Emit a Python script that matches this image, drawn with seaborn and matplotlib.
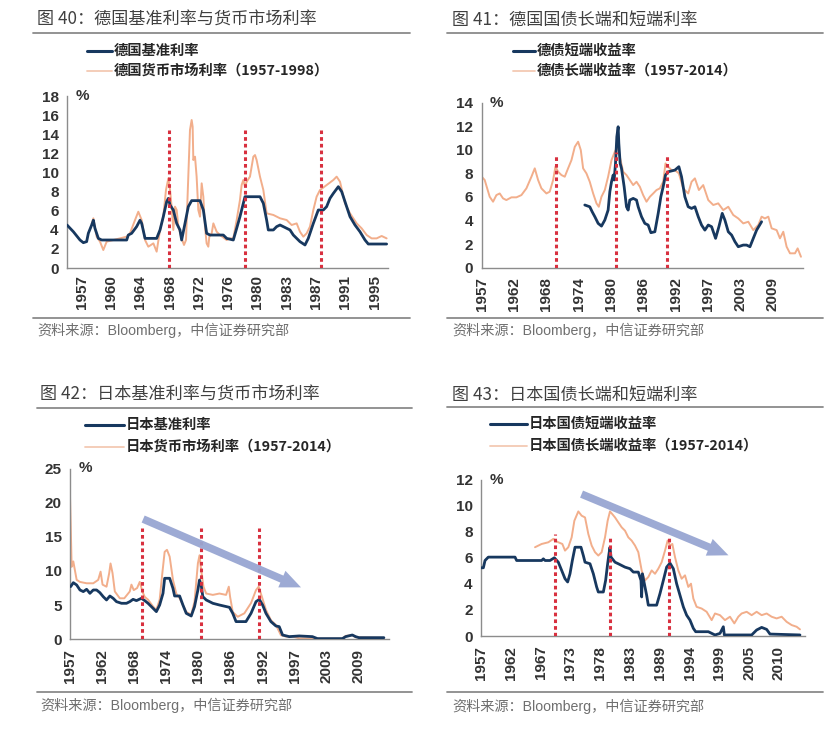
import numpy as np
import pandas as pd
import matplotlib
matplotlib.use("Agg")
import matplotlib.pyplot as plt
import seaborn as sns
from matplotlib.lines import Line2D

# ---------------- data (decimal year, %) ----------------
de_base = [(1957.0, 4.5), (1957.83, 3.8), (1958.7, 2.93), (1959.14, 2.65), (1959.57, 2.76), (1959.79, 3.63),
           (1960.23, 4.5), (1960.45, 5.0), (1960.66, 4.15), (1961.1, 3.1), (1961.54, 2.93), (1964.81, 2.93),
           (1965.02, 3.45), (1965.46, 3.63), (1966.11, 4.33), (1966.55, 5.0), (1966.77, 4.67), (1967.21, 3.1),
           (1968.73, 3.1), (1969.17, 3.98), (1969.6, 5.37), (1970.04, 6.94), (1970.26, 7.29), (1970.48, 6.59),
           (1970.91, 6.07), (1971.35, 4.67), (1971.78, 3.98), (1972.0, 2.93), (1972.44, 4.67), (1972.87, 6.42),
           (1973.31, 7.05), (1974.4, 7.05), (1974.84, 6.07), (1975.27, 3.63), (1975.71, 3.45), (1977.45, 3.45),
           (1977.89, 3.1), (1978.76, 2.93), (1979.2, 4.15), (1979.63, 5.37), (1980.07, 6.77), (1980.29, 7.46),
           (1982.25, 7.46), (1982.69, 6.77), (1983.12, 5.02), (1983.34, 3.98), (1984.0, 3.98), (1984.43, 4.33),
           (1984.87, 4.5), (1985.3, 4.33), (1986.18, 3.98), (1986.61, 3.45), (1987.48, 2.76), (1988.14, 2.41),
           (1988.57, 3.1), (1989.23, 4.67), (1989.88, 6.07), (1990.54, 6.07), (1990.97, 6.42), (1991.41, 7.29),
           (1991.85, 7.81), (1992.5, 8.51), (1992.94, 7.99), (1993.59, 6.42), (1994.03, 5.37), (1994.68, 4.5),
           (1995.33, 3.8), (1995.99, 2.93), (1996.42, 2.51), (1998.82, 2.51)]
de_money = [(1960.23, 4.6), (1960.45, 5.2), (1960.88, 3.28), (1961.32, 2.76), (1961.75, 1.88), (1962.19, 2.76),
            (1963.06, 2.93), (1963.93, 3.1), (1964.81, 3.28), (1965.24, 3.63), (1965.9, 5.02), (1966.33, 5.89),
            (1966.77, 5.02), (1967.21, 2.93), (1967.64, 2.23), (1968.3, 2.58), (1968.73, 1.71), (1969.17, 3.98),
            (1969.6, 5.37), (1969.95, 8.16), (1970.26, 9.38), (1970.48, 8.16), (1970.69, 6.42), (1970.91, 3.98),
            (1971.13, 6.42), (1971.35, 6.07), (1971.57, 4.33), (1972.0, 3.1), (1972.31, 2.41), (1972.57, 2.93),
            (1972.87, 9.56), (1973.09, 14.44), (1973.31, 15.49), (1973.44, 14.79), (1973.53, 11.3), (1973.75, 11.65),
            (1973.96, 9.56), (1974.18, 6.07), (1974.4, 5.37), (1974.62, 8.86), (1974.84, 7.46), (1975.05, 4.33),
            (1975.27, 2.58), (1975.49, 2.23), (1975.62, 3.28), (1975.93, 3.63), (1976.15, 4.67), (1976.58, 3.8),
            (1977.02, 3.45), (1977.89, 2.93), (1978.33, 3.1), (1978.76, 3.1), (1979.2, 5.02), (1979.63, 7.12),
            (1979.85, 8.68), (1980.07, 9.21), (1980.29, 8.51), (1980.51, 9.03), (1980.94, 9.56), (1981.38, 11.65),
            (1981.6, 11.82), (1981.81, 11.3), (1982.25, 9.56), (1982.69, 8.16), (1983.12, 5.72), (1984.0, 5.55),
            (1984.87, 5.2), (1985.74, 5.02), (1986.39, 4.5), (1987.05, 4.67), (1987.48, 3.8), (1987.92, 3.28),
            (1988.36, 3.63), (1988.79, 4.33), (1989.23, 6.07), (1989.66, 7.46), (1990.1, 8.16), (1990.97, 8.68),
            (1991.85, 9.21), (1992.28, 9.56), (1992.72, 9.03), (1993.37, 6.77), (1994.03, 5.72), (1994.9, 4.67),
            (1995.55, 4.15), (1996.21, 3.45), (1996.86, 3.1), (1997.51, 3.1), (1998.17, 3.35), (1998.82, 3.1)]

de_short = [(1975.59, 5.32), (1976.49, 5.17), (1976.92, 4.75), (1977.4, 4.33), (1978.0, 3.76), (1978.6, 3.53),
            (1979.2, 4.04), (1979.8, 4.89), (1980.11, 6.45), (1980.41, 7.29), (1980.71, 7.86), (1980.89, 7.44),
            (1981.13, 8.85), (1981.37, 11.11), (1981.61, 11.96), (1981.73, 10.55), (1981.97, 8.85), (1982.21, 8.43),
            (1982.69, 6.87), (1983.11, 5.17), (1983.41, 4.89), (1983.71, 5.74), (1984.32, 5.88), (1984.92, 5.74),
            (1985.22, 5.17), (1985.82, 4.33), (1986.42, 3.76), (1987.02, 3.62), (1987.51, 2.97), (1988.23, 3.05),
            (1988.83, 4.61), (1989.31, 6.02), (1989.73, 6.87), (1990.15, 7.86), (1990.63, 8.14), (1991.84, 8.28),
            (1992.56, 8.57), (1993.04, 7.72), (1993.64, 6.02), (1994.24, 5.17), (1994.85, 5.03), (1995.45, 5.17),
            (1996.05, 4.33), (1996.65, 3.62), (1997.25, 3.19), (1997.86, 3.62), (1998.46, 3.48), (1999.18, 2.49),
            (1999.78, 3.48), (2000.38, 4.61), (2000.86, 4.04), (2001.47, 3.05), (2002.07, 2.77), (2002.67, 2.21),
            (2003.27, 1.78), (2004.17, 1.92), (2004.77, 1.92), (2005.38, 1.78), (2005.98, 2.49), (2006.58, 3.19),
            (2007.48, 3.9)]
de_long = [(1957.0, 7.72), (1957.54, 7.44), (1958.44, 6.02), (1959.05, 5.6), (1959.65, 6.16), (1960.25, 6.3),
           (1960.85, 5.88), (1961.45, 5.74), (1962.36, 5.97), (1963.26, 5.97), (1964.16, 6.16), (1965.06, 6.73),
           (1965.97, 7.72), (1966.57, 8.43), (1967.17, 7.44), (1967.77, 6.73), (1968.67, 6.3), (1969.27, 6.45),
           (1969.88, 7.44), (1970.3, 8.57), (1970.78, 8.14), (1971.38, 7.86), (1971.98, 7.72), (1972.58, 8.43),
           (1973.19, 9.13), (1973.79, 10.26), (1974.39, 10.69), (1974.87, 9.98), (1975.29, 8.43), (1975.89, 8.0),
           (1976.49, 7.29), (1977.1, 6.3), (1977.7, 5.46), (1978.12, 5.17), (1978.6, 6.02), (1979.2, 6.59),
           (1979.8, 7.72), (1980.41, 9.13), (1981.01, 9.84), (1981.49, 10.26), (1981.91, 9.41), (1982.51, 8.14),
           (1983.11, 7.86), (1983.71, 7.44), (1984.32, 7.01), (1984.92, 7.29), (1985.52, 6.87), (1986.12, 6.16),
           (1986.72, 5.6), (1987.33, 6.02), (1987.93, 6.3), (1988.53, 6.59), (1989.13, 6.73), (1989.73, 7.29),
           (1990.15, 8.85), (1990.63, 8.57), (1991.24, 8.28), (1991.84, 8.28), (1992.56, 8.0), (1993.34, 6.73),
           (1994.24, 6.3), (1994.85, 7.29), (1995.45, 7.58), (1996.17, 6.59), (1996.95, 7.01), (1997.86, 5.74),
           (1998.76, 5.32), (1999.66, 5.46), (2000.56, 4.89), (2001.47, 5.17), (2002.37, 4.47), (2003.27, 4.18),
           (2004.17, 3.76), (2005.08, 3.9), (2005.98, 3.19), (2006.88, 3.62), (2007.48, 4.33), (2008.08, 4.18),
           (2008.69, 4.33), (2009.29, 3.34), (2010.19, 3.19), (2010.79, 2.49), (2011.39, 3.05), (2011.99, 1.78),
           (2012.6, 1.22), (2013.5, 1.22), (2013.98, 1.64), (2014.58, 0.93)]

jp_base = [(1957.12, 7.71), (1957.6, 8.29), (1958.21, 7.95), (1958.81, 7.22), (1959.42, 6.98), (1960.02, 7.32),
           (1960.62, 6.73), (1961.23, 7.22), (1961.83, 7.22), (1962.43, 6.83), (1963.04, 6.24), (1963.64, 5.76),
           (1964.25, 6.34), (1964.85, 6.0), (1965.45, 5.51), (1966.36, 5.27), (1967.27, 5.27), (1967.87, 5.51),
           (1968.47, 5.85), (1969.08, 5.66), (1969.98, 6.0), (1970.59, 5.66), (1971.19, 5.27), (1972.1, 4.54),
           (1972.7, 4.05), (1973.3, 5.02), (1973.91, 6.73), (1974.21, 8.93), (1975.12, 8.93), (1975.72, 7.46),
           (1976.02, 6.34), (1976.93, 6.34), (1977.53, 5.02), (1978.14, 3.8), (1979.04, 3.41), (1979.64, 4.78),
           (1980.25, 7.22), (1980.55, 8.68), (1980.85, 7.95), (1981.15, 6.24), (1981.76, 5.76), (1982.97, 5.27),
           (1984.17, 5.02), (1985.99, 4.68), (1986.59, 3.8), (1987.19, 2.59), (1988.99, 2.59), (1989.91, 3.8),
           (1990.82, 5.51), (1991.42, 5.85), (1992.02, 5.02), (1992.63, 3.8), (1993.53, 2.59), (1994.44, 1.95),
           (1995.04, 1.85), (1995.65, 0.63), (1996.86, 0.39), (1998.67, 0.49), (2001.08, 0.39), (2001.99, 0.1),
           (2006.52, 0.1), (2007.12, 0.39), (2008.33, 0.63), (2008.93, 0.39), (2009.54, 0.24), (2014.07, 0.24)]
jp_money = [(1957.0, 20.9), (1957.12, 17.0), (1957.3, 10.6), (1957.6, 11.4), (1958.21, 8.7), (1958.81, 8.4),
            (1960.02, 8.2), (1961.23, 8.2), (1962.13, 8.7), (1962.56, 9.9), (1962.92, 8.0), (1963.64, 7.7),
            (1964.13, 9.7), (1964.37, 11.1), (1964.73, 9.7), (1965.15, 7.0), (1966.06, 6.0), (1966.87, 6.0),
            (1967.87, 7.0), (1968.17, 8.0), (1968.59, 7.2), (1969.2, 7.5), (1969.68, 8.4), (1970.16, 7.0),
            (1970.59, 6.2), (1971.19, 5.8), (1972.1, 4.8), (1972.7, 4.3), (1973.3, 5.8), (1973.79, 9.7),
            (1974.21, 12.8), (1974.63, 13.1), (1975.12, 12.1), (1975.72, 8.7), (1976.32, 6.7), (1976.93, 6.0),
            (1977.53, 5.0), (1978.14, 4.0), (1979.04, 3.6), (1979.64, 5.5), (1980.25, 11.1), (1980.55, 12.3),
            (1980.85, 10.1), (1981.27, 7.7), (1981.76, 6.7), (1982.97, 6.5), (1984.17, 6.7), (1985.38, 6.5),
            (1985.87, 7.7), (1986.11, 6.2), (1986.59, 4.0), (1987.49, 3.3), (1988.7, 3.8), (1989.91, 5.3),
            (1990.82, 7.2), (1991.3, 7.7), (1991.9, 6.2), (1992.63, 4.3), (1993.53, 2.8), (1994.44, 2.1),
            (1995.35, 0.6), (1996.26, 0.4), (1997.46, 0.4), (1998.67, 0.15), (2001.08, 0.1), (2006.52, 0.1),
            (2007.12, 0.5), (2008.33, 0.6), (2008.93, 0.3), (2014.07, 0.2)]

jp_short = [(1957.0, 5.24), (1957.42, 5.24), (1957.72, 5.8), (1958.31, 6.06), (1963.09, 6.06), (1963.38, 5.8),
            (1967.86, 5.8), (1968.16, 5.93), (1968.46, 5.8), (1969.35, 5.8), (1970.13, 6.01), (1970.84, 5.67),
            (1971.44, 5.04), (1972.04, 4.4), (1972.51, 4.15), (1972.93, 4.78), (1973.35, 5.8), (1973.83, 6.82),
            (1974.9, 6.82), (1975.32, 6.18), (1975.62, 5.67), (1976.51, 5.55), (1977.11, 4.78), (1977.7, 3.77),
            (1978.0, 3.38), (1978.9, 3.38), (1979.31, 4.27), (1979.67, 5.55), (1979.91, 6.31), (1980.09, 6.82),
            (1980.27, 6.06), (1980.51, 5.93), (1980.99, 5.67), (1981.58, 5.55), (1982.78, 5.29), (1983.67, 5.17),
            (1984.27, 4.91), (1985.16, 4.91), (1985.64, 4.27), (1985.76, 3.0), (1985.88, 4.78), (1986.24, 4.02),
            (1986.65, 3.13), (1986.95, 2.37), (1988.44, 2.37), (1989.04, 3.26), (1989.64, 4.27), (1990.23, 5.29),
            (1990.83, 5.6), (1991.43, 5.17), (1992.02, 4.02), (1992.62, 3.13), (1993.22, 2.24), (1993.81, 1.6),
            (1994.41, 1.22), (1995.01, 0.59), (1995.43, 0.33), (1997.69, 0.33), (1998.89, 0.08), (1999.78, 0.2),
            (2000.38, 0.71), (2000.56, 0.08), (2005.45, 0.08), (2006.34, 0.46), (2007.24, 0.66), (2008.13, 0.51),
            (2008.73, 0.15), (2014.1, 0.08)]
jp_long = [(1966.67, 6.82), (1967.86, 7.07), (1969.05, 7.2), (1969.95, 7.46), (1970.25, 7.33), (1970.84, 7.2),
           (1971.56, 7.07), (1972.04, 6.56), (1972.63, 6.82), (1973.23, 7.58), (1973.71, 8.85), (1974.42, 9.57),
           (1975.02, 9.24), (1975.62, 9.11), (1976.21, 7.84), (1976.81, 6.95), (1977.41, 6.44), (1978.0, 6.18),
           (1978.6, 6.44), (1979.2, 7.58), (1979.67, 8.85), (1980.09, 9.57), (1980.51, 9.36), (1980.99, 9.11),
           (1981.58, 8.73), (1982.18, 8.35), (1982.78, 8.09), (1983.37, 7.58), (1983.97, 7.33), (1984.57, 6.95),
           (1985.16, 6.44), (1985.76, 5.04), (1986.36, 4.27), (1986.95, 4.53), (1987.55, 5.04), (1988.15, 4.78),
           (1988.74, 5.17), (1989.34, 5.67), (1989.94, 6.56), (1990.41, 7.33), (1990.83, 6.95), (1991.25, 7.07),
           (1991.73, 6.06), (1992.32, 5.04), (1992.92, 4.4), (1993.52, 4.66), (1994.11, 3.77), (1994.59, 4.02),
           (1995.01, 2.88), (1995.6, 2.24), (1996.5, 2.11), (1997.39, 1.86), (1998.29, 1.22), (1998.89, 1.73),
           (1999.78, 1.6), (2000.67, 1.22), (2001.57, 1.48), (2002.35, 0.97), (2003.06, 1.48), (2003.66, 1.73),
           (2004.56, 1.86), (2005.45, 1.6), (2006.34, 1.86), (2007.24, 1.6), (2008.13, 1.73), (2009.03, 1.48),
           (2009.92, 1.35), (2010.82, 1.48), (2011.71, 1.09), (2012.61, 0.84), (2013.5, 0.71), (2014.1, 0.51)]

# event markers (year) and their heights
events_40 = [1970.35, 1980.33, 1990.19]
events_40_top = [14.4, 14.4, 14.4]
events_41 = [1970.48, 1981.31, 1990.45]
events_41_top = [9.6, 9.8, 9.5]
events_42 = [1970.16, 1980.85, 1991.30]
events_42_top = [16.3, 16.3, 16.3]
events_43 = [1970.25, 1980.09, 1990.71]
events_43_top = [7.8, 7.5, 7.6]

# trend arrows (start, end)
arrow_42 = [(1970.3, 17.6), (1999.0, 7.6)]
arrow_43 = [(1975.0, 10.9), (2001.3, 6.2)]

# tick labels
labels_40 = ["1957", "1960", "1964", "1968", "1972", "1976", "1980", "1983", "1987", "1991", "1995"]
labels_41 = ["1957", "1962", "1968", "1974", "1980", "1986", "1992", "1997", "2003", "2009"]
labels_42 = ["1957", "1962", "1968", "1974", "1980", "1986", "1992", "1997", "2003", "2009"]
labels_43 = ["1957", "1962", "1967", "1973", "1978", "1983", "1989", "1994", "1999", "2005", "2010"]

titles = ["图 40：德国基准利率与货币市场利率", "图 41：德国国债长端和短端利率",
          "图 42：日本基准利率与货币市场利率", "图 43：日本国债长端和短端利率"]
legend_labels = [("德国基准利率", "德国货币市场利率（1957-1998）"),
                 ("德债短端收益率", "德债长端收益率（1957-2014）"),
                 ("日本基准利率", "日本货币市场利率（1957-2014）"),
                 ("日本国债短端收益率", "日本国债长端收益率（1957-2014）")]
source = "资料来源：Bloomberg，中信证券研究部"

# ---------------- style ----------------
sns.set_style("white")
plt.rcParams["font.family"] = ["Noto Sans CJK SC", "DejaVu Sans"]

W, H = 837, 738
fig = plt.figure(figsize=(W / 100, H / 100), dpi=100)

BLUE = "#17385F"
ORANGE = "#F2AE8B"
ORANGE_LEG = "#F3C9B3"
RED = "#D8303F"
GRID = "#8C8C8C"
TXT = "#333333"


def fx(px):
    return px / W


def fy(py):
    return 1 - py / H


def make_axes(l, r, b, t):
    return fig.add_axes([fx(l), fy(b), (r - l) / W, (b - t) / H])


def df_of(pairs):
    return pd.DataFrame(pairs, columns=["year", "rate"])


def panel(ax, blue, orange, xlim, ylim, ystep, events, tops, tick_pos, labels, between=False, minor=None,
          arrow=None):
    sns.lineplot(data=df_of(orange), x="year", y="rate", ax=ax, color=ORANGE, lw=1.4,
                 estimator=None, sort=False, legend=False, zorder=2)
    sns.lineplot(data=df_of(blue), x="year", y="rate", ax=ax, color=BLUE, lw=2.0,
                 estimator=None, sort=False, legend=False, zorder=3)
    ax.vlines(events, 0, tops, colors=RED, linestyles=(0, (1.2, 1.0)), lw=2.2, zorder=5)
    if arrow is not None:
        (x0, y0), (x1, y1) = arrow
        ax.annotate("", xy=(x1, y1), xytext=(x0, y0),
                    arrowprops=dict(arrowstyle="simple,head_width=1.3,head_length=1.5,tail_width=0.55",
                                    color="#98A6D2", shrinkA=0, shrinkB=0, lw=0, alpha=0.95),
                    zorder=6)
    ax.set_xlim(*xlim)
    ax.set_ylim(*ylim)
    ax.set_yticks(np.arange(ylim[0], ylim[1] + 0.001, ystep))
    ax.set_xticks(tick_pos)
    ax.set_xticklabels(labels, rotation=90)
    if between:
        ax.set_xticks(minor, minor=True)
        ax.tick_params(axis="x", which="major", length=0, pad=5)
        ax.tick_params(axis="x", which="minor", length=4, width=1, color=GRID, direction="out")
    else:
        ax.tick_params(axis="x", which="major", length=4, width=1, color=GRID, direction="out", pad=3)
    ax.tick_params(axis="y", which="major", length=3, width=1, color=GRID, direction="out", pad=3)
    ax.yaxis.set_major_formatter(matplotlib.ticker.FormatStrFormatter("%d"))
    for lab in ax.get_xticklabels() + ax.get_yticklabels():
        lab.set_fontfamily("Liberation Sans")
        lab.set_fontweight("bold")
        lab.set_fontsize(11)
        lab.set_color(TXT)
    for s in ["top", "right"]:
        ax.spines[s].set_visible(False)
    for s in ["left", "bottom"]:
        ax.spines[s].set_color(GRID)
        ax.spines[s].set_linewidth(1.0)
    ax.set_xlabel("")
    ax.set_ylabel("")
    ax.grid(False)
    ax.annotate("%", xy=(0, 1), xycoords="axes fraction", xytext=(6, 0), textcoords="offset points",
                ha="left", va="center", fontsize=11, fontweight="bold", color=TXT,
                fontfamily="Liberation Sans")


def decorate(title, tx, ty, rule_l, rule_r, rule_y, leg, lx0, lx1, ly1, ly2, foot_rule_y, foot_y):
    fig.text(fx(tx), fy(ty), title, fontsize=12.3, color="#404040", ha="left", va="center")
    fig.add_artist(Line2D([fx(rule_l), fx(rule_r)], [fy(rule_y), fy(rule_y)], color="#8a8a8a", lw=1.3))
    fig.add_artist(Line2D([fx(lx0), fx(lx1)], [fy(ly1), fy(ly1)], color=BLUE, lw=2.2))
    fig.add_artist(Line2D([fx(lx0), fx(lx1)], [fy(ly2), fy(ly2)], color=ORANGE_LEG, lw=1.3))
    fig.text(fx(lx1 + 2), fy(ly1), leg[0], fontsize=10.3, fontweight="bold", color="#262626",
             ha="left", va="center")
    fig.text(fx(lx1 + 2), fy(ly2), leg[1], fontsize=10.3, fontweight="bold", color="#262626",
             ha="left", va="center")
    fig.add_artist(Line2D([fx(rule_l), fx(rule_r)], [fy(foot_rule_y), fy(foot_rule_y)], color="#8a8a8a", lw=1.3))
    fig.text(fx(tx), fy(foot_y), source, fontsize=10.2, color="#6f6f6f", ha="left", va="center",
             family=["Liberation Sans", "Noto Sans CJK SC"])


# ----- panel 40 -----
ax1 = make_axes(67, 388, 268, 96)
grp = 46 / 12
panel(ax1, de_base, de_money, (1957, 1999), (0, 18), 2, events_40, events_40_top,
      [1957 + (k + 0.5) * grp for k in range(len(labels_40))], labels_40, between=True,
      minor=[1957 + k * grp for k in range(11)])
decorate(titles[0], 37, 20, 33, 410, 33, legend_labels[0], 87, 112, 51, 71, 317.7, 330)

# ----- panel 41 -----
ax2 = make_axes(481.7, 803.3, 267.7, 102.7)
grp = 70 / 12
panel(ax2, de_short, de_long, (1957, 2015), (0, 14), 2, events_41, events_41_top,
      [1957 + k * grp for k in range(len(labels_41))], labels_41)
decorate(titles[1], 452, 20, 447, 823, 33, legend_labels[1], 513, 535, 51, 71, 317.7, 330)

# ----- panel 42 -----
ax3 = make_axes(70, 389, 639.3, 468.5)
panel(ax3, jp_base, jp_money, (1957, 2015), (0, 25), 5, events_42, events_42_top,
      [1957 + k * grp for k in range(len(labels_42))], labels_42, arrow=arrow_42)
decorate(titles[2], 40, 395, 37, 412, 407.7, legend_labels[2], 85, 124, 425, 446.7, 691.7, 705)

# ----- panel 43 -----
ax4 = make_axes(481, 805, 636, 479.8)
grp = 64 / 12
panel(ax4, jp_short, jp_long, (1957, 2015), (0, 12), 2, events_43, events_43_top,
      [1957 + k * grp for k in range(len(labels_43))], labels_43, arrow=arrow_43)
decorate(titles[3], 452, 395, 447, 823, 406.7, legend_labels[3], 490, 527, 424, 446, 691.7, 706)

fig.savefig("out.png", dpi=100, facecolor="white")
